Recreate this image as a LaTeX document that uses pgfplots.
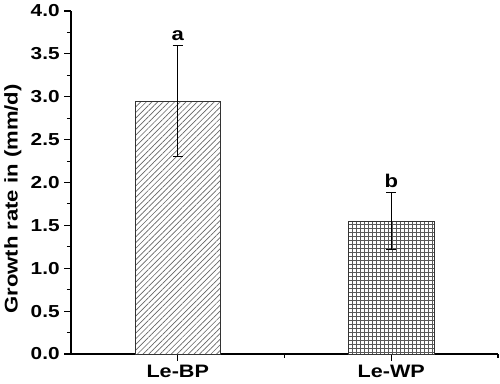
\documentclass[border=0pt]{standalone}
\usepackage{fontspec}
\setmainfont{Liberation Sans}
\newfontfamily\widefam[FakeStretch=1.2]{Liberation Sans}
\usepackage{pgfplots}
\pgfplotsset{compat=1.18}
\usetikzlibrary{patterns.meta}
\newcommand{\lblfont}{\widefam\fontsize{13}{15}\selectfont\bfseries}
\newcommand{\ylblfont}{\widefam\fontsize{13.8}{15}\selectfont\bfseries}
\newcommand{\xlblfont}{\widefam\fontsize{13.5}{15}\selectfont\bfseries}
\begin{document}
\begin{tikzpicture}
\useasboundingbox (-53.25pt,-22.5pt) rectangle (321.75pt,265.5pt);
\begin{axis}[
  at={(0,0)}, anchor=south west,
  scale only axis, width=320.25pt, height=257.25pt,
  xmin=0.5, xmax=2.5, ymin=0, ymax=4,
  axis x line=bottom, axis y line=left,
  axis line style={-, line width=0.8pt, black},
  xtick={1,2}, xticklabels={Le-BP,Le-WP},
  minor xtick={1.5,2.5},
  ytick={0,0.5,...,4}, minor ytick={0.25,0.75,...,3.75},
  yticklabel style={/pgf/number format/fixed, /pgf/number format/fixed zerofill, /pgf/number format/precision=1, font=\lblfont},
  xticklabel style={font=\xlblfont},
  /pgf/number format/assume math mode=true,
  tick style={black, line width=0.8pt},
  tick align=outside,
  major tick length=5pt, minor tick length=3pt,
  ylabel={Growth rate in (mm/d)},
  ylabel style={font=\ylblfont, at={(axis description cs:-0.136,0.452)}, anchor=center},
  clip=false,
]
\addplot[ybar, bar width=0.4, bar shift=0pt, draw=black!80, line width=0.6pt, fill=white,
  postaction={pattern={Lines[angle=45,distance=3pt,line width=0.5pt]}, pattern color=black!60},
  error bars/.cd, y dir=both, y explicit,
  error bar style={black, line width=0.7pt},
  error mark options={rotate=90, mark size=3.8pt, line width=0.7pt, black}]
  coordinates {(1,2.95) +- (0,0.65)};
\addplot[ybar, bar width=0.4, bar shift=0pt, draw=black!80, line width=0.6pt, fill=white,
  postaction={pattern={Hatch[angle=0,distance=3pt,line width=0.4pt]}, pattern color=black!65},
  error bars/.cd, y dir=both, y explicit,
  error bar style={black, line width=0.7pt},
  error mark options={rotate=90, mark size=3.8pt, line width=0.7pt, black}]
  coordinates {(2,1.55) +- (0,0.33)};
\node[anchor=south, font=\ylblfont, inner sep=1pt] at (axis cs:1,3.64) {a};
\node[anchor=south, font=\ylblfont, inner sep=1pt] at (axis cs:2,1.92) {b};
\end{axis}
\end{tikzpicture}
\end{document}
